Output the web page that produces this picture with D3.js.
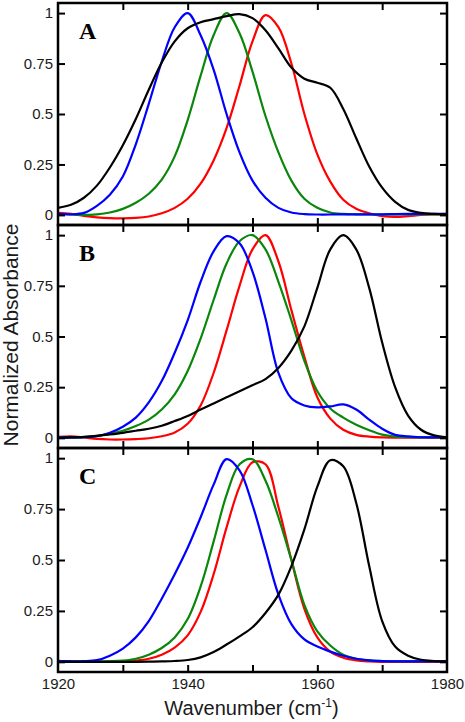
<!DOCTYPE html>
<html><head><meta charset="utf-8">
<script src="https://cdn.jsdelivr.net/npm/d3@7"></script>
<style>body{margin:0;background:#fff}</style>
</head><body>
<svg id="chart" width="465" height="722"></svg>
<script>
// ---------- data ----------
const wavenumber = [1920,1922,1924,1926,1928,1930,1932,1934,1936,1938,1940,1942,1944,1946,1948,1950,1952,1954,1956,1958,1960,1962,1964,1966,1968,1970,1972,1974,1976,1978,1980];

const xTickValues = [1930,1940,1950,1960,1970];
const xTickLabels = [1920,1940,1960,1980];
const yTickValues = [0,0.25,0.5,0.75,1];
const yTickLabels = ["0","0.25","0.5","0.75","1"];
const panelLabels = ["A","B","C"];

const A_black = [0.035,0.05,0.085,0.145,0.235,0.345,0.475,0.62,0.755,0.86,0.925,0.955,0.97,0.985,0.995,0.975,0.915,0.825,0.73,0.675,0.655,0.63,0.525,0.38,0.24,0.135,0.065,0.025,0.01,0.005,0.003];
const A_blue  = [0.005,0.003,0.01,0.045,0.1,0.19,0.35,0.55,0.76,0.93,1.0,0.89,0.72,0.5,0.31,0.17,0.085,0.035,0.012,0.004,0.002,0.002,0.003,0.003,0.003,0.003,0.004,0.005,0.005,0.005,0.005];
const A_green = [0.005,0.002,0.0,0.003,0.012,0.03,0.06,0.105,0.175,0.29,0.47,0.69,0.89,1.0,0.9,0.71,0.49,0.31,0.17,0.08,0.035,0.012,0.005,0.003,0.002,0.002,0.003,0.003,0.003,0.003,0.003];
const A_red   = [0.01,0.005,-0.005,-0.012,-0.016,-0.017,-0.015,-0.008,0.008,0.035,0.08,0.155,0.27,0.43,0.64,0.86,0.99,0.93,0.75,0.5,0.3,0.165,0.075,0.03,0.008,-0.006,-0.01,-0.006,0.0,0.003,0.005];

const B_black = [0.0,0.002,0.005,0.01,0.017,0.025,0.035,0.045,0.06,0.083,0.108,0.14,0.17,0.2,0.23,0.26,0.29,0.345,0.43,0.55,0.74,0.93,1.0,0.93,0.74,0.47,0.25,0.11,0.04,0.012,0.003];
const B_blue  = [0.003,0.002,0.003,0.008,0.025,0.055,0.1,0.175,0.28,0.42,0.58,0.77,0.92,0.995,0.96,0.82,0.59,0.32,0.195,0.16,0.15,0.155,0.165,0.14,0.09,0.045,0.015,0.007,0.003,0.002,0.002];
const B_green = [0.002,0.002,0.004,0.01,0.02,0.035,0.058,0.09,0.14,0.215,0.33,0.49,0.68,0.86,0.97,1.0,0.93,0.77,0.58,0.38,0.23,0.145,0.1,0.065,0.038,0.016,0.006,0.003,0.002,0.002,0.002];
const B_red   = [0.005,0.008,0.002,-0.005,-0.008,-0.008,-0.006,-0.002,0.008,0.027,0.07,0.16,0.32,0.53,0.75,0.93,1.0,0.87,0.63,0.4,0.2,0.095,0.04,0.015,0.006,0.002,0.001,0.001,0.001,0.001,0.001];

const C_black = [0.0,0.0,0.0,0.0,0.0,0.0,0.0,0.001,0.002,0.004,0.009,0.022,0.048,0.085,0.125,0.17,0.24,0.33,0.47,0.65,0.86,0.99,0.96,0.78,0.47,0.2,0.075,0.03,0.01,0.004,0.002];
const C_blue  = [0.005,0.003,0.003,0.008,0.03,0.065,0.12,0.2,0.31,0.43,0.56,0.71,0.87,0.995,0.94,0.77,0.55,0.33,0.185,0.11,0.075,0.05,0.03,0.015,0.007,0.003,0.002,0.002,0.002,0.002,0.002];
const C_green = [0.003,0.002,0.002,0.002,0.003,0.006,0.015,0.035,0.068,0.12,0.21,0.37,0.59,0.82,0.97,0.995,0.89,0.71,0.5,0.28,0.15,0.08,0.035,0.015,0.007,0.004,0.003,0.003,0.003,0.003,0.003];
const C_red   = [0.0,0.0,0.0,0.0,0.0,0.002,0.006,0.015,0.035,0.07,0.13,0.245,0.43,0.66,0.86,0.98,0.97,0.76,0.5,0.26,0.12,0.05,0.02,0.007,0.002,0.0,0.0,0.0,0.0,0.0,0.0];

// ---------- drawing ----------
const colors = {red:"#ff0000", green:"#0a870a", blue:"#0000ff", black:"#000000"};
const panels = [
  {label: panelLabels[0], top: 3,   bottom: 225, series: {red:A_red, green:A_green, blue:A_blue, black:A_black}},
  {label: panelLabels[1], top: 225, bottom: 448, series: {red:B_red, green:B_green, blue:B_blue, black:B_black}},
  {label: panelLabels[2], top: 448, bottom: 672, series: {red:C_red, green:C_green, blue:C_blue, black:C_black}}
];
const left = 58, right = 447;
const sans = "'Liberation Sans', Arial, sans-serif";
const svg = d3.select("#chart");
const x = d3.scaleLinear().domain([1920,1980]).range([left,right]);
const order = ["red","green","blue","black"];

panels.forEach((p, i) => {
  const y = d3.scaleLinear().domain([-0.05,1.05]).range([p.bottom,p.top]);
  const g = svg.append("g");
  const clipId = "clip" + i;
  svg.append("clipPath").attr("id", clipId).append("rect")
    .attr("x", left).attr("y", p.top).attr("width", right-left).attr("height", p.bottom-p.top);

  const line = d3.line().x((d,j) => x(wavenumber[j])).y(d => y(d)).curve(d3.curveCatmullRom.alpha(0.5));
  const curves = g.append("g").attr("clip-path", `url(#${clipId})`);
  order.forEach(k => {
    curves.append("path").datum(p.series[k])
      .attr("fill","none").attr("stroke", colors[k]).attr("stroke-width", 2.2)
      .attr("stroke-linejoin","round").attr("d", line);
  });

  const styleAxis = sel => {
    sel.select(".domain").remove();
    sel.selectAll(".tick line").attr("stroke","#000").attr("stroke-width",2);
    sel.selectAll(".tick text").attr("fill","#1a1a1a").style("font-family", sans).style("font-size","15px");
  };
  g.append("g").attr("transform",`translate(${left},0)`)
    .call(d3.axisLeft(y).tickValues(yTickValues).tickSize(-7).tickPadding(5).tickFormat((d,j)=>yTickLabels[j]))
    .call(styleAxis);
  g.append("g").attr("transform",`translate(${right},0)`)
    .call(d3.axisRight(y).tickValues(yTickValues).tickSize(-7).tickFormat(""))
    .call(styleAxis);
  g.append("g").attr("transform",`translate(0,${p.top})`)
    .call(d3.axisTop(x).tickValues(xTickValues).tickSize(-7).tickFormat(""))
    .call(styleAxis);
  g.append("g").attr("transform",`translate(0,${p.bottom})`)
    .call(d3.axisBottom(x).tickValues(xTickValues).tickSize(-7).tickFormat(""))
    .call(styleAxis);
  if (i === panels.length-1) {
    const lab = g.append("g").attr("transform",`translate(0,${p.bottom})`)
      .call(d3.axisBottom(x).tickValues(xTickLabels).tickSize(0).tickPadding(6).tickFormat(d3.format("d")))
      .call(styleAxis);
    lab.selectAll(".tick line").remove();
  }

  g.append("rect").attr("x", left).attr("y", p.top).attr("width", right-left).attr("height", p.bottom-p.top)
    .attr("fill","none").attr("stroke","#000").attr("stroke-width",2.5);

  g.append("text").attr("x", 79).attr("y", p.top + 36).text(p.label)
    .style("font-family","'Liberation Serif','Times New Roman',serif").style("font-weight","bold").style("font-size","24px");
});

svg.append("text").attr("transform","translate(17.5,335) rotate(-90)").attr("text-anchor","middle")
  .style("font-family", sans).style("font-size","21px").attr("fill","#1a1a1a").text("Normalized Absorbance");
const xt = svg.append("text").attr("x", 251.5).attr("y", 715).attr("text-anchor","middle")
  .style("font-family", sans).style("font-size","20px").attr("fill","#1a1a1a");
xt.append("tspan").text("Wavenumber (cm");
xt.append("tspan").attr("dy",-8).style("font-size","12px").text("-1");
xt.append("tspan").attr("dy",8).text(")");
</script>
</body></html>
